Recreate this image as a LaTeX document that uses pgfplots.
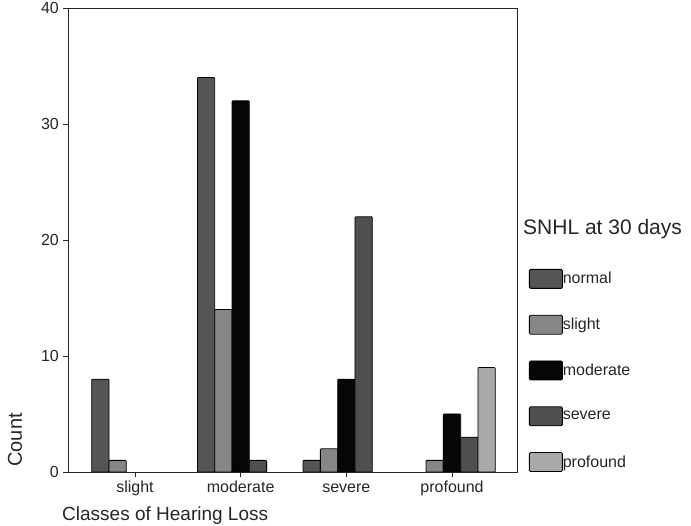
\documentclass[border=0pt]{standalone}
\usepackage{fontspec}
\setmainfont{Liberation Sans}
\usepackage{pgfplots}
\pgfplotsset{compat=1.18}
\definecolor{cnormal}{HTML}{555555}
\definecolor{cslight}{HTML}{868686}
\definecolor{cmoderate}{HTML}{060606}
\definecolor{csevere}{HTML}{4F4F4F}
\definecolor{cprofound}{HTML}{A9A9A9}
\definecolor{txt}{HTML}{262626}
\begin{document}
\begin{tikzpicture}[x=1pt,y=1pt]
\useasboundingbox (0,0) rectangle (691,526);
\begin{axis}[
  at={(68pt,54pt)}, anchor=south west,
  scale only axis, width=449pt, height=464pt,
  ymin=0, ymax=40, xmin=-0.634, xmax=3.615,
  ytick={0,10,20,30,40},
  xtick={0,1,2,3},
  xticklabels={slight,moderate,severe,profound},
  ybar=0pt, bar width=17.3pt,
  tick align=outside, tick pos=left,
  major tick length=5pt,
  axis line style={line width=0.9pt, black!85},
  every tick/.style={line width=0.9pt, black!85},
  /pgf/number format/assume math mode=true,
  tick label style={font=\fontsize{16}{16}\selectfont, text=txt},
  yticklabel style={inner sep=0pt, anchor=east, xshift=-4pt},
  xticklabel style={inner sep=0pt, anchor=base, yshift=-16pt},
  every axis plot/.append style={draw=black, line width=0.8pt, rounded corners=0.8pt},
  legend image code/.code={\draw[#1, rounded corners=1.2pt] (0pt,-9.5pt) rectangle (33pt,9.5pt);},
  legend style={at={(axis description cs:1.0267,0.4375)}, anchor=north west,
    draw=none, fill=none, inner sep=0pt, outer sep=0pt,
    row sep=26pt, column sep=0pt,
    nodes={inner sep=0pt, outer sep=0pt, font=\fontsize{16}{16}\selectfont, text=txt}},
  legend cell align=left,
]
\addplot[fill=cnormal] coordinates {(0,8) (1,34) (2,1)};
\addplot[fill=cslight] coordinates {(0,1) (1,14) (2,2) (3,1)};
\addplot[fill=cmoderate] coordinates {(1,32) (2,8) (3,5)};
\addplot[fill=csevere] coordinates {(1,1) (2,22) (3,3)};
\addplot[fill=cprofound] coordinates {(3,9)};
\legend{normal,slight,moderate,severe,profound}
\end{axis}
\node[anchor=west, inner sep=0pt, text=txt, font=\fontsize{21}{21}\selectfont] at (523,297) {SNHL at 30 days};
\node[rotate=90, inner sep=0pt, text=txt, font=\fontsize{20}{20}\selectfont] at (15,86) {Count};
\node[anchor=west, inner sep=0pt, text=txt, font=\fontsize{19}{19}\selectfont] at (62,10) {Classes of Hearing Loss};
\end{tikzpicture}
\end{document}
